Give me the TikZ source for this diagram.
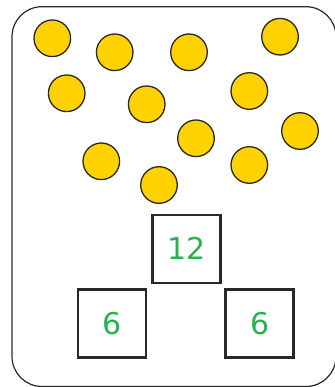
\documentclass[tikz,border=0pt]{standalone}
\usepackage{fontspec}
\setmainfont{DejaVu Sans}
\definecolor{coin}{RGB}{255,210,0}
\definecolor{numgreen}{RGB}{38,178,78}
\definecolor{edge}{RGB}{40,40,40}
\begin{document}
\begin{tikzpicture}[
  x=1pt, y=-1pt,
  counter/.style={circle, draw=edge, fill=coin, line width=1.3pt, minimum size=36.6pt, inner sep=0pt},
  numbox/.style={draw=edge, line width=2.6pt, minimum width=68pt, minimum height=68pt, inner sep=0pt, text=numgreen, font=\fontsize{30}{30}\selectfont}
]
\useasboundingbox (0,0) rectangle (334,387);
\draw[edge, line width=1.2pt, rounded corners=30pt] (12,6.7) rectangle (336,386.5);
% counters
\node[counter] (c1) at (52.3,38.3) {};
\node[counter] (c2) at (114.7,52.3) {};
\node[counter] (c3) at (189,52.3) {};
\node[counter] (c4) at (280,36.7) {};
\node[counter] (c5) at (66.7,93.3) {};
\node[counter] (c6) at (146.7,104.3) {};
\node[counter] (c7) at (249.3,91) {};
\node[counter] (c8) at (196,138.3) {};
\node[counter] (c9) at (300,131) {};
\node[counter] (c10) at (101.3,161.3) {};
\node[counter] (c11) at (249.3,165) {};
\node[counter] (c12) at (159,185) {};
% number bond
\node[numbox] (whole) at (186.7,248.8) {12};
\node[numbox] (partA) at (112,323.3) {6};
\node[numbox] (partB) at (259.7,323.3) {6};
\end{tikzpicture}
\end{document}
